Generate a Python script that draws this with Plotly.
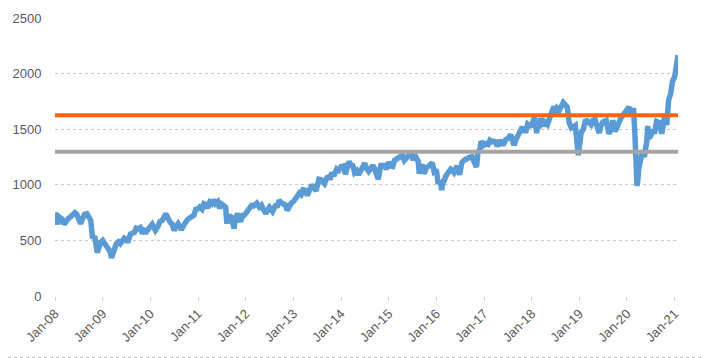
import plotly.graph_objects as go

dates = [
    "2008-01-01", "2008-01-22", "2008-02-01", "2008-02-15", "2008-03-01", "2008-03-10", "2008-04-01", "2008-04-15",
    "2008-05-01", "2008-05-15", "2008-06-01", "2008-06-15", "2008-07-01", "2008-07-15", "2008-08-01", "2008-08-15",
    "2008-09-01", "2008-09-15", "2008-10-01", "2008-10-15", "2008-11-01", "2008-11-20", "2008-12-01", "2008-12-15",
    "2009-01-01", "2009-01-15", "2009-02-01", "2009-02-15", "2009-03-01", "2009-03-09", "2009-03-15", "2009-04-01",
    "2009-04-15", "2009-05-01", "2009-05-15", "2009-06-01", "2009-06-15", "2009-07-01", "2009-07-10", "2009-08-01",
    "2009-08-15", "2009-09-01", "2009-09-15", "2009-10-01", "2009-10-15", "2009-11-01", "2009-11-15", "2009-12-01",
    "2009-12-15", "2010-01-01", "2010-01-15", "2010-02-08", "2010-02-15", "2010-03-01", "2010-03-15", "2010-04-01",
    "2010-04-29", "2010-05-15", "2010-06-01", "2010-06-15", "2010-07-02", "2010-07-15", "2010-08-01", "2010-08-15",
    "2010-08-26", "2010-09-15", "2010-10-01", "2010-10-15", "2010-11-01", "2010-11-15", "2010-12-01", "2010-12-15",
    "2011-01-01", "2011-01-15", "2011-02-01", "2011-02-15", "2011-03-01", "2011-03-15", "2011-04-01", "2011-04-15",
    "2011-04-29", "2011-05-15", "2011-06-01", "2011-06-15", "2011-07-01", "2011-07-15", "2011-08-01", "2011-08-10",
    "2011-08-15", "2011-09-01", "2011-09-15", "2011-10-04", "2011-10-15", "2011-11-01", "2011-11-25", "2011-12-01",
    "2011-12-15", "2012-01-01", "2012-01-15", "2012-02-01", "2012-02-15", "2012-03-01", "2012-03-26", "2012-04-15",
    "2012-05-01", "2012-05-15", "2012-06-04", "2012-06-15", "2012-07-01", "2012-07-25", "2012-08-15", "2012-09-01",
    "2012-09-14", "2012-10-01", "2012-10-15", "2012-11-01", "2012-11-15", "2012-12-01", "2012-12-15", "2013-01-01",
    "2013-01-15", "2013-02-01", "2013-02-15", "2013-03-01", "2013-03-15", "2013-04-01", "2013-04-18", "2013-05-01",
    "2013-05-22", "2013-06-01", "2013-06-24", "2013-07-15", "2013-08-01", "2013-08-27", "2013-09-15", "2013-10-01",
    "2013-10-08", "2013-10-22", "2013-11-07", "2013-11-29", "2013-12-15", "2014-01-01", "2014-01-22", "2014-02-03",
    "2014-02-15", "2014-03-04", "2014-03-15", "2014-04-01", "2014-04-15", "2014-05-01", "2014-05-15", "2014-06-01",
    "2014-06-15", "2014-07-01", "2014-07-15", "2014-08-01", "2014-08-15", "2014-09-01", "2014-09-15", "2014-10-01",
    "2014-10-13", "2014-11-01", "2014-11-15", "2014-12-01", "2014-12-15", "2015-01-01", "2015-01-15", "2015-02-01",
    "2015-02-15", "2015-03-01", "2015-03-15", "2015-04-01", "2015-04-15", "2015-05-01", "2015-05-15", "2015-06-01",
    "2015-06-23", "2015-07-08", "2015-07-20", "2015-08-01", "2015-08-15", "2015-08-24", "2015-09-01", "2015-09-17",
    "2015-09-29", "2015-10-15", "2015-11-01", "2015-11-15", "2015-12-01", "2015-12-15", "2016-01-01", "2016-01-15",
    "2016-02-01", "2016-02-11", "2016-02-22", "2016-03-01", "2016-03-15", "2016-04-01", "2016-04-20", "2016-05-01",
    "2016-05-15", "2016-06-01", "2016-06-15", "2016-06-27", "2016-07-15", "2016-08-01", "2016-08-15", "2016-09-01",
    "2016-09-22", "2016-10-01", "2016-10-15", "2016-11-04", "2016-11-15", "2016-12-01", "2016-12-09", "2016-12-20",
    "2017-01-01", "2017-01-15", "2017-02-01", "2017-02-15", "2017-03-01", "2017-03-15", "2017-04-01", "2017-04-13",
    "2017-05-01", "2017-05-17", "2017-06-01", "2017-06-15", "2017-07-01", "2017-07-25", "2017-08-18", "2017-09-01",
    "2017-09-15", "2017-10-01", "2017-10-15", "2017-11-01", "2017-11-15", "2017-12-01", "2017-12-15", "2018-01-01",
    "2018-01-23", "2018-02-08", "2018-02-15", "2018-03-01", "2018-03-13", "2018-04-01", "2018-04-15", "2018-05-01",
    "2018-05-15", "2018-06-01", "2018-06-20", "2018-07-01", "2018-07-15", "2018-08-01", "2018-08-31", "2018-09-15",
    "2018-10-01", "2018-10-15", "2018-11-01", "2018-11-15", "2018-12-01", "2018-12-24", "2018-12-31", "2019-01-15",
    "2019-02-01", "2019-02-15", "2019-03-01", "2019-03-15", "2019-04-01", "2019-04-15", "2019-05-01", "2019-05-15",
    "2019-06-03", "2019-06-15", "2019-07-01", "2019-07-26", "2019-08-15", "2019-09-01", "2019-09-15", "2019-10-02",
    "2019-10-15", "2019-11-01", "2019-11-15", "2019-12-01", "2019-12-15", "2020-01-01", "2020-01-17", "2020-02-01",
    "2020-02-20", "2020-03-01", "2020-03-12", "2020-03-18", "2020-03-23", "2020-04-01", "2020-04-15", "2020-05-01",
    "2020-05-13", "2020-06-01", "2020-06-08", "2020-06-15", "2020-07-01", "2020-07-15", "2020-08-01", "2020-08-15",
    "2020-09-01", "2020-09-23", "2020-10-01", "2020-10-15", "2020-11-01", "2020-11-15", "2020-12-01", "2020-12-15",
    "2021-01-01", "2021-01-15", "2021-01-26",
]

values = [
    750, 645, 713, 690, 686, 645, 687, 700,
    714, 740, 749, 735, 689, 650, 700, 735,
    740, 700, 680, 520, 537, 390, 440, 480,
    499, 460, 443, 420, 389, 343, 380, 423,
    470, 487, 470, 501, 520, 508, 480, 557,
    560, 572, 610, 604, 615, 562, 590, 579,
    600, 625, 645, 590, 600, 628, 670, 678,
    740, 690, 663, 650, 590, 620, 650, 620,
    595, 640, 676, 690, 703, 710, 727, 780,
    784, 800, 781, 830, 823, 790, 843, 830,
    865, 830, 848, 790, 827, 815, 797, 650,
    690, 727, 700, 605, 700, 741, 666, 737,
    720, 741, 770, 792, 815, 810, 835, 800,
    817, 780, 740, 770, 798, 760, 810, 812,
    860, 837, 830, 818, 770, 822, 835, 849,
    885, 902, 925, 911, 955, 951, 905, 947,
    1000, 984, 945, 1050, 1045, 1010, 1065, 1073,
    1045, 1110, 1080, 1143, 1130, 1164, 1170, 1095,
    1150, 1210, 1180, 1173, 1110, 1127, 1090, 1135,
    1165, 1193, 1150, 1120, 1140, 1174, 1145, 1101,
    1050, 1173, 1170, 1173, 1140, 1205, 1170, 1165,
    1220, 1233, 1235, 1252, 1265, 1220, 1240, 1246,
    1290, 1220, 1270, 1239, 1210, 1100, 1160, 1180,
    1100, 1150, 1162, 1180, 1198, 1120, 1136, 1010,
    1035, 953, 1030, 1034, 1080, 1114, 1140, 1130,
    1110, 1154, 1150, 1090, 1200, 1220, 1235, 1240,
    1250, 1252, 1210, 1160, 1290, 1322, 1390, 1375,
    1357, 1370, 1362, 1400, 1387, 1390, 1385, 1345,
    1400, 1370, 1370, 1405, 1415, 1450, 1355, 1405,
    1440, 1490, 1505, 1502, 1470, 1544, 1530, 1536,
    1610, 1465, 1530, 1512, 1600, 1530, 1560, 1542,
    1600, 1634, 1705, 1643, 1690, 1671, 1740, 1720,
    1696, 1560, 1511, 1520, 1533, 1267, 1349, 1470,
    1500, 1570, 1576, 1550, 1540, 1580, 1591, 1530,
    1466, 1530, 1567, 1580, 1460, 1495, 1580, 1480,
    1530, 1562, 1600, 1625, 1650, 1668, 1700, 1614,
    1690, 1476, 1210, 991, 1030, 1153, 1240, 1310,
    1250, 1394, 1530, 1420, 1441, 1480, 1480, 1570,
    1561, 1460, 1507, 1620, 1538, 1760, 1819, 1930,
    1975, 2110, 2165,
]

threshold_high = 1625
threshold_low = 1297
y_ticks = [0, 500, 1000, 1500, 2000, 2500]
x_ticks = ["2008-01-01", "2009-01-01", "2010-01-01", "2011-01-01", "2012-01-01", "2013-01-01", "2014-01-01",
           "2015-01-01", "2016-01-01", "2017-01-01", "2018-01-01", "2019-01-01", "2020-01-01", "2021-01-01"]
x_tick_labels = ["Jan-08", "Jan-09", "Jan-10", "Jan-11", "Jan-12", "Jan-13", "Jan-14",
                 "Jan-15", "Jan-16", "Jan-17", "Jan-18", "Jan-19", "Jan-20", "Jan-21"]

x_range = [dates[0], dates[-1]]

fig = go.Figure()
fig.add_trace(go.Scatter(x=dates, y=values, mode="lines",
                         line=dict(color="#5B9BD5", width=5.5), showlegend=False))
fig.add_trace(go.Scatter(x=x_range, y=[threshold_low, threshold_low], mode="lines",
                         line=dict(color="#A5A5A5", width=4), showlegend=False))
fig.add_trace(go.Scatter(x=x_range, y=[threshold_high, threshold_high], mode="lines",
                         line=dict(color="#FA6410", width=4), showlegend=False))

# page body has an 8px margin, so the figure is shrunk by 8px and margins shifted
W, H = 702, 350
ml, mr, mt, mb = 47, 32, 10, 62
pw, ph = W - ml - mr, H - mt - mb

# right and bottom parts of the dotted outer frame
fig.add_shape(type="line", xref="paper", yref="paper",
              x0=(W - 0.5 - ml) / pw, x1=(W - 0.5 - ml) / pw,
              y0=(H - mb - (H - 0.5)) / ph, y1=(H - mb + 8) / ph,
              line=dict(color="#BFBFBF", width=1, dash="dot"), layer="below")
fig.add_shape(type="line", xref="paper", yref="paper",
              x0=(0 - ml) / pw, x1=(W - 0.5 - ml) / pw,
              y0=(H - mb - (H - 0.5)) / ph, y1=(H - mb - (H - 0.5)) / ph,
              line=dict(color="#BFBFBF", width=1, dash="dot"), layer="below")

fig.update_layout(
    width=W, height=H,
    margin=dict(l=ml, r=mr, t=mt, b=mb, autoexpand=False),
    paper_bgcolor="white", plot_bgcolor="white",
    font=dict(family="Liberation Sans, Arial, sans-serif", size=13, color="#595959"),
    xaxis=dict(type="date", range=x_range, tickvals=x_ticks, ticktext=x_tick_labels,
               tickangle=-45, showgrid=False, zeroline=False, showline=False, automargin=False,
               ticks="outside", ticklen=4, tickcolor="#D0D0D0", tickwidth=1),
    yaxis=dict(range=[0, 2500], tickvals=y_ticks, showgrid=True, gridcolor="#C8C8C8",
               griddash="dot", gridwidth=1, zeroline=False, showline=False, automargin=False,
               ticks="outside", ticklen=10, tickcolor="rgba(0,0,0,0)"),
)

fig.write_html("out.html")
